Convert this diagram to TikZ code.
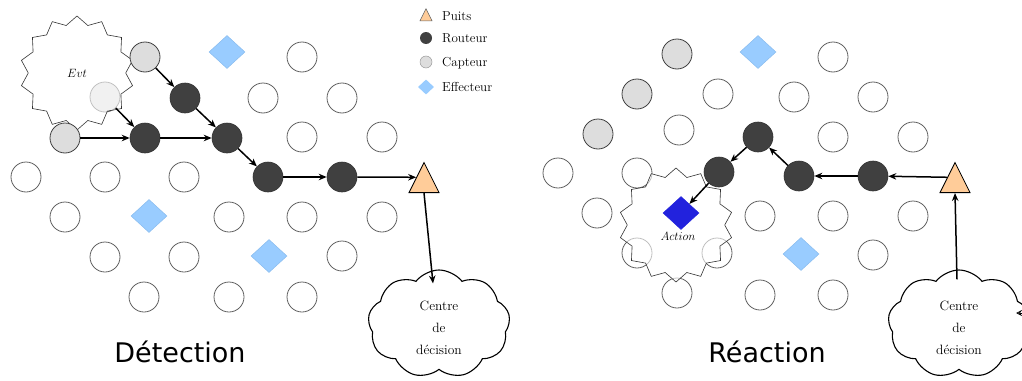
\documentclass[tikz,border=0pt]{standalone}
\usepackage{fontspec}
\newfontfamily\titlefont{DejaVu Sans}
\usetikzlibrary{shapes.geometric,shapes.symbols,arrows.meta}
\definecolor{routerc}{HTML}{404040}
\definecolor{capc}{HTML}{DDDDDD}
\definecolor{effc}{HTML}{99CCFF}
\definecolor{effd}{HTML}{88BBEE}
\definecolor{sinkc}{HTML}{FFCC99}
\definecolor{actc}{HTML}{2222DD}
\definecolor{nodeb}{HTML}{606060}
\begin{document}
\begin{tikzpicture}[x=1pt,y=-1pt,
 plain/.style={circle,draw=nodeb,line width=0.8pt,minimum size=30pt,inner sep=0pt},
 routeur/.style={circle,fill=routerc,draw=routerc!80!black,line width=0.6pt,minimum size=30pt,inner sep=0pt},
 capteur/.style={circle,fill=capc,draw=black!75,line width=0.8pt,minimum size=30pt,inner sep=0pt},
 capteurpale/.style={circle,fill=capc,draw=black!60,line width=0.8pt,minimum size=30pt,inner sep=0pt},
 effecteur/.style={diamond,fill=effc,draw=effd,line width=0.5pt,minimum width=36pt,minimum height=33pt,inner sep=0pt},
 actionbox/.style={diamond,fill=actc,draw=actc,line width=0.5pt,minimum width=36pt,minimum height=33pt,inner sep=0pt},
 puits/.style={isosceles triangle,isosceles triangle stretches,shape border rotate=90,fill=sinkc,draw=black,line width=0.8pt,minimum width=30pt,minimum height=30pt,inner sep=0pt},
 evt/.style={star,star points=14,star point ratio=1.17,draw=black!80,line width=0.6pt,fill=white,fill opacity=0.6,text opacity=1,minimum size=114pt,inner sep=0pt},
 nuage/.style={cloud,cloud puffs=9,cloud puff arc=105,aspect=1.3,draw=black,line width=1.1pt,fill=white,minimum width=142pt,minimum height=108pt,inner sep=0pt},
 nuagetxt/.style={align=center,font=\fontsize{13.5}{22}\selectfont,inner sep=0pt},
 fleche/.style={-{Stealth[length=8pt,width=6.5pt]},line width=1.5pt},
 titre/.style={font=\titlefont\fontsize{27}{32}\selectfont},
 leg/.style={anchor=west,font=\fontsize{13}{15}\selectfont,inner sep=0pt},
 petit/.style={font=\fontsize{12}{14}\selectfont}
]
\useasboundingbox (0,0) rectangle (1022,380);

% ---------- Left panel: Detection ----------
\node[plain] (n1) at (302,57) {};
\node[plain] (n2) at (263,98) {};
\node[plain] (n3) at (342,98) {};
\node[plain] (n4) at (302,137) {};
\node[plain] (n5) at (382,137) {};
\node[plain] (n6) at (26,177) {};
\node[plain] (n7) at (105,177) {};
\node[plain] (n8) at (184,177) {};
\node[plain] (n9) at (65,217) {};
\node[plain] (n10) at (229,217) {};
\node[plain] (n11) at (302,217) {};
\node[plain] (n12) at (382,217) {};
\node[plain] (n13) at (105,257) {};
\node[plain] (n14) at (184,257) {};
\node[plain] (n15) at (342,256) {};
\node[plain] (n16) at (144,297) {};
\node[plain] (n17) at (229,297) {};
\node[plain] (n18) at (302,297) {};
\node[capteurpale] (cl) at (105,97) {};
\node[evt,petit] (evt) at (77,73) {$Evt$};
\node[capteur] (c1) at (145,57) {};
\node[capteur] (c2) at (65,138) {};
\node[effecteur] (e1) at (227,52) {};
\node[effecteur] (e2) at (149,216) {};
\node[effecteur] (e3) at (269,256) {};
\node[routeur] (r1) at (185,98) {};
\node[routeur] (r2) at (145,138) {};
\node[routeur] (r3) at (227,138) {};
\node[routeur] (r4) at (268,177) {};
\node[routeur] (r5) at (342,177) {};
\node[puits,anchor=lower side] (sinkL) at (424,193) {};
\node[nuage] (cloudL) at (439,324) {};
\node[nuagetxt] (txtL) at (439,328) {Centre\\de\\décision};

\draw[fleche] (c1) -- (r1);
\draw[fleche] (r1) -- (r3);
\draw[fleche] (cl) -- (r2);
\draw[fleche] (c2) -- (r2);
\draw[fleche] (r2) -- (r3);
\draw[fleche] (r3) -- (r4);
\draw[fleche] (r4) -- (r5);
\draw[fleche] (r5) -- (sinkL.left side);
\draw[fleche] (sinkL.lower side) -- ([xshift=-6pt,yshift=-14pt]cloudL.north);

\node[titre] (detect) at (180,352) {Détection};

% ---------- Legend ----------
\node[isosceles triangle,isosceles triangle stretches,shape border rotate=90,fill=sinkc,draw=black!60,line width=0.5pt,minimum width=12pt,minimum height=12pt,inner sep=0pt,anchor=lower side] (lg1) at (426,21) {};
\node[circle,fill=routerc,minimum size=12pt,inner sep=0pt] (lg2) at (426,38) {};
\node[circle,fill=capc,draw=black!40,line width=0.5pt,minimum size=12pt,inner sep=0pt] (lg3) at (426,62) {};
\node[diamond,fill=effc,minimum width=16pt,minimum height=15pt,inner sep=0pt] (lg4) at (426,87) {};
\node[leg] (lt1) at (442,16) {Puits};
\node[leg] (lt2) at (442,38) {Routeur};
\node[leg] (lt3) at (442,63) {Capteur};
\node[leg] (lt4) at (442,87) {Effecteur};

% ---------- Right panel: Reaction ----------
\node[plain] (N1) at (833,57) {};
\node[plain] (N2) at (718,94) {};
\node[plain] (N3) at (794,97) {};
\node[plain] (N4) at (873,97) {};
\node[plain] (N5) at (679,130) {};
\node[plain] (N6) at (833,137) {};
\node[plain] (N7) at (913,137) {};
\node[plain] (N8) at (558,173) {};
\node[plain] (N9) at (637,173) {};
\node[plain] (N10) at (597,213) {};
\node[plain] (N11) at (760,216) {};
\node[plain] (N12) at (833,216) {};
\node[plain] (N13) at (913,216) {};
\node[plain] (N14) at (637,253) {};
\node[plain] (N15) at (717,253) {};
\node[plain] (N16) at (873,255) {};
\node[plain] (N17) at (677,293) {};
\node[plain] (N18) at (760,295) {};
\node[plain] (N19) at (833,295) {};
\node[evt] (act) at (676,225) {};
\node[capteur] (C1) at (677,54) {};
\node[capteur] (C2) at (637,94) {};
\node[capteur] (C3) at (598,134) {};
\node[effecteur] (E1) at (758,52) {};
\node[effecteur] (E2) at (801,254) {};
\node[actionbox] (A) at (681,213) {};
\node[petit] (albl) at (678,236) {$Action$};
\node[routeur] (R1) at (758,137) {};
\node[routeur] (R2) at (719,172) {};
\node[routeur] (R3) at (799,176) {};
\node[routeur] (R4) at (873,176) {};
\node[puits,anchor=lower side] (sinkR) at (955,193) {};
\node[nuage] (cloudR) at (959,324) {};
\node[nuagetxt] (txtR) at (959,328) {Centre\\de\\décision};

\draw[fleche] (sinkR.left side) -- (R4);
\draw[fleche] (R4) -- (R3);
\draw[fleche] (R3) -- (R1);
\draw[fleche] (R1) -- (R2);
\draw[fleche] (R2) -- (A);
\draw[fleche] ([xshift=-2pt,yshift=-10pt]cloudR.north) -- (sinkR.lower side);
\coordinate (hors) at (1045,313);
\coordinate (entree) at (1016,313);
\draw[-{Stealth[length=6pt,width=6pt,open]},line width=0.8pt] (hors) -- (entree);

\node[titre] (react) at (767,352) {Réaction};
\end{tikzpicture}
\end{document}
